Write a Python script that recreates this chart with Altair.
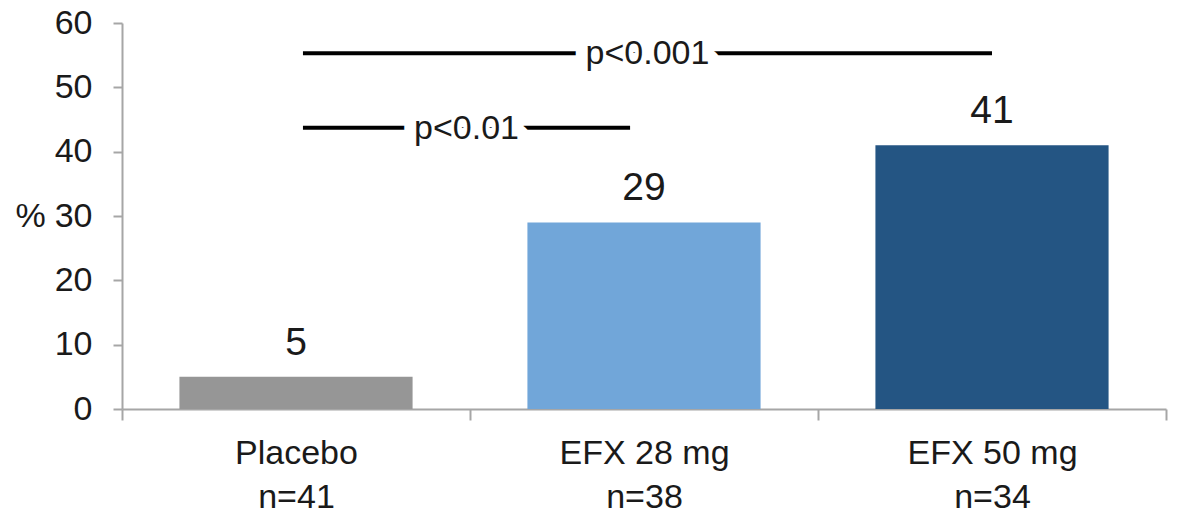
import altair as alt
import pandas as pd

# Response rates by treatment arm
categories = ["Placebo", "EFX 28 mg", "EFX 50 mg"]
n_patients = [41, 38, 34]
response_pct = [5, 29, 41]
bar_colors = ["#969696", "#71a6d9", "#245583"]

# Significance brackets (x in category units: 0..3, y in %)
bracket_labels = ["p<0.001", "p<0.01"]
bracket_start = [0.52, 0.52]
bracket_end = [2.5, 1.46]
bracket_y = [55.3, 43.7]

FONT = "Liberation Sans, Arial"
TEXT = "#1a1a1a"
AXIS = "#a6a6a6"
FS = 34

bars_df = pd.DataFrame({
    "arm": categories,
    "label": [f"{c}\nn={n}" for c, n in zip(categories, n_patients)],
    "pct": response_pct,
    "color": bar_colors,
})

brackets_df = pd.DataFrame({
    "text": bracket_labels,
    "x0": bracket_start,
    "x1": bracket_end,
    "y": bracket_y,
})
brackets_df["xm"] = (brackets_df["x0"] + brackets_df["x1"]) / 2

y_enc = alt.Y(
    "pct:Q",
    scale=alt.Scale(domain=[0, 60], nice=False),
    axis=alt.Axis(
        values=[0, 10, 20, 30, 40, 50, 60],
        title="%",
        titleAngle=0,
        titleAlign="center",
        titleBaseline="middle",
        titleX=-92,
        titleY=193,
        titleFont=FONT,
        titleFontSize=FS,
        titleFontWeight="normal",
        titleColor=TEXT,
        labelFont=FONT,
        labelFontSize=FS,
        labelColor=TEXT,
        labelPadding=21,
        tickSize=9,
        grid=False,
    ),
)

# Full-width bands so the category ticks fall between the groups
x_enc = alt.X(
    "label:N",
    sort=None,
    scale=alt.Scale(paddingInner=0, paddingOuter=0),
    axis=alt.Axis(
        title=None,
        labelAngle=0,
        labelExpr="split(datum.label, '\\n')",
        labelFont=FONT,
        labelFontSize=FS,
        labelColor=TEXT,
        labelLineHeight=44,
        labelBaseline="top",
        labelPadding=16,
        tickBand="extent",
        tickSize=11,
    ),
)

bars = alt.Chart(bars_df).mark_bar(width=alt.RelativeBandSize(0.67)).encode(
    x=x_enc,
    y=y_enc,
    color=alt.Color("color:N", scale=None),
)

values = alt.Chart(bars_df).mark_text(
    baseline="bottom", dy=-14, font=FONT, fontSize=39, color=TEXT
).encode(
    x=alt.X("label:N", sort=None),
    y="pct:Q",
    text="pct:Q",
)

bx = alt.Scale(domain=[0, 3], nice=False, zero=False)

rules = alt.Chart(brackets_df).mark_rule(color="#000000", strokeWidth=4).encode(
    x=alt.X("x0:Q", scale=bx, axis=None),
    x2="x1:Q",
    y=alt.Y("y:Q"),
)

halo = alt.Chart(brackets_df).mark_text(
    font=FONT, fontSize=FS, baseline="middle", dy=1,
    color="white", stroke="white", strokeWidth=24, strokeJoin="round",
).encode(
    x=alt.X("xm:Q", scale=bx, axis=None),
    y="y:Q",
    text="text:N",
)

ptext = alt.Chart(brackets_df).mark_text(
    font=FONT, fontSize=FS, baseline="middle", dy=1, color=TEXT,
).encode(
    x=alt.X("xm:Q", scale=bx, axis=None),
    y="y:Q",
    text="text:N",
)

main = alt.layer(bars, values)
notes = alt.layer(rules, halo, ptext)

chart = alt.layer(main, notes).resolve_scale(x="independent").properties(
    width=1044,
    height=386,
    autosize=alt.AutoSizeParams(type="none"),
    padding={"left": 122, "top": 23, "right": 12, "bottom": 109},
    background="white",
).configure_view(stroke=None).configure_axis(
    domainColor=AXIS,
    domainWidth=2,
    tickColor=AXIS,
    tickWidth=2,
)

chart.save("out.html", embed_options={"renderer": "svg", "actions": False})
